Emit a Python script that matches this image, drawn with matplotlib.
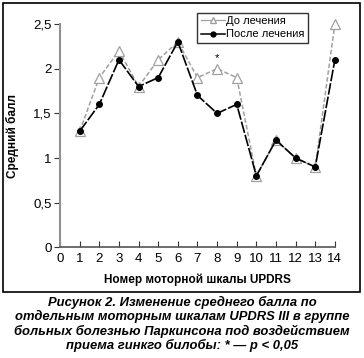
import matplotlib.pyplot as plt
from matplotlib.lines import Line2D
from matplotlib.patches import Rectangle

plt.rcParams['font.family'] = ['Liberation Sans', 'DejaVu Sans']

scales = [1, 2, 3, 4, 5, 6, 7, 8, 9, 10, 11, 12, 13, 14]
before = [1.3, 1.9, 2.2, 1.8, 2.1, 2.3, 1.9, 2.0, 1.9, 0.8, 1.2, 1.0, 0.9, 2.5]
after = [1.3, 1.6, 2.1, 1.8, 1.9, 2.3, 1.7, 1.5, 1.6, 0.8, 1.2, 1.0, 0.9, 2.1]
star_x = 8
lbl_before = 'До лечения'
lbl_after = 'После лечения'
caption = ('Рисунок 2. Изменение среднего балла по\n'
           'отдельным моторным шкалам UPDRS III в группе\n'
           'больных болезнью Паркинсона под воздействием\n'
           'приема гинкго билобы: * — p < 0,05')

fig = plt.figure(figsize=(3.64, 3.58), dpi=100)
ax = fig.add_axes([0.165, 0.309, 0.755, 0.624])

ax.plot(scales, before, color='#a0a0a0', ls=(0, (3, 1.5)), lw=1.1,
        marker='^', ms=6.5, mfc='white', mec='#a0a0a0', mew=0.9, zorder=2, clip_on=False)
ax.plot(scales, after, color='black', ls=(0, (7, 1.2)), lw=1.2,
        marker='o', ms=4, mfc='black', mec='black', zorder=3, clip_on=False)
ax.text(star_x, before[star_x - 1] + 0.06, '*', ha='center', va='bottom', fontsize=8)

ax.set_xlim(0, 14)
ax.set_ylim(0, 2.5)
ax.set_xticks(range(0, 15))
ax.set_yticks([0, 0.5, 1, 1.5, 2, 2.5])
ax.set_yticklabels(['0', '0,5', '1', '1,5', '2', '2,5'])
ax.tick_params(axis='x', direction='in', length=4, labelsize=9.5, pad=4, color='#333333')
ax.tick_params(axis='y', direction='out', length=4, labelsize=9.5, pad=2, color='#333333')
for s in ['top', 'right']:
    ax.spines[s].set_visible(False)
ax.spines['left'].set_color('#909090')
ax.spines['left'].set_linewidth(1.5)
ax.spines['bottom'].set_color('#555555')
ax.spines['bottom'].set_linewidth(1.2)

ax.set_xlabel('Номер моторной шкалы UPDRS', fontsize=8.5, fontweight='bold', labelpad=6)
ax.set_ylabel('Средний балл', fontsize=8.5, fontweight='bold', labelpad=10)

handles = [Line2D([], [], color='#a0a0a0', lw=0.9, marker='^', ms=5, mfc='white', mec='#a0a0a0'),
           Line2D([], [], color='black', lw=1.1, marker='o', ms=3.5, mfc='black')]
leg = ax.legend(handles, [lbl_before, lbl_after], loc='upper left',
                bbox_to_anchor=(0.5, 1.05), fontsize=8, frameon=True, fancybox=False,
                edgecolor='black', handlelength=2.2, handletextpad=0.1,
                borderpad=0.3, labelspacing=0.3, borderaxespad=0)
leg.get_frame().set_linewidth(1.0)

fig.patches.append(Rectangle((3 / 364, 1 - 292 / 358), 357 / 364, 289 / 358,
                             transform=fig.transFigure, fill=False, ec='black', lw=1.2))

fig.text(0.5, 1 - 296 / 358, caption, ha='center', va='top', fontsize=9.4,
         fontweight='bold', fontstyle='italic', linespacing=1.12)

fig.savefig('out.png', dpi=100)
